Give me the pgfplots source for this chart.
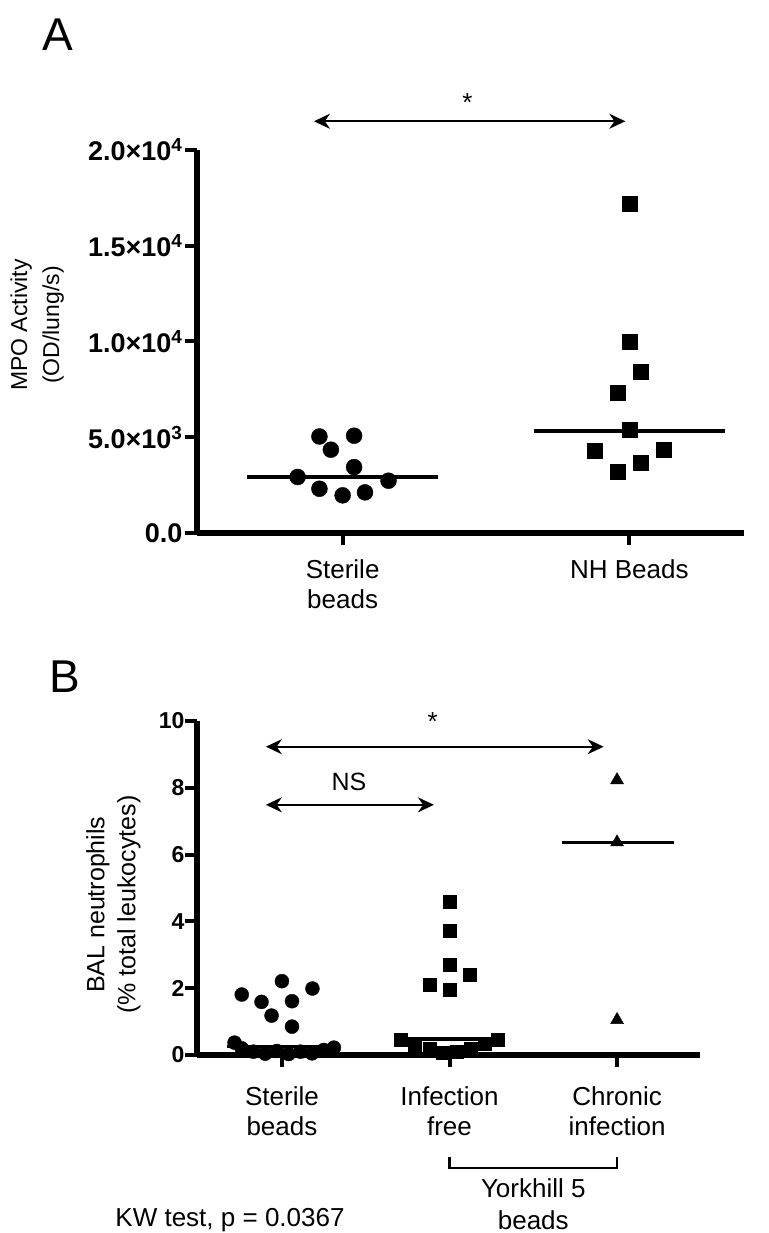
\documentclass[border=0pt]{standalone}
\usepackage{fontspec}
\setmainfont{Liberation Sans}
\usepackage{pgfplots}
\pgfplotsset{compat=1.18}
\usetikzlibrary{arrows.meta}

\tikzset{dbl/.style={line width=2pt, {Stealth[length=16pt,width=15pt]}-{Stealth[length=16pt,width=15pt]}}}
\pgfplotsset{
  prism/.style={
    scale only axis,
    anchor=south west,
    axis x line=bottom, axis y line=left,
    axis line style={line width=5.3pt, -},
    tick align=outside, xtick pos=bottom, ytick pos=left,
    major tick length=12pt,
    every tick/.style={line width=4pt, black},
    scaled y ticks=false,
    xticklabel style={align=center, font=\fontsize{26}{30}\selectfont},
    ylabel style={anchor=center, align=center},
    clip=false,
  },
  med/.style={line width=3.3pt, black, no marks},
}

\begin{document}
\begin{tikzpicture}
\path[use as bounding box] (0pt,0pt) rectangle (768pt,1233pt);

\node[font=\fontsize{46}{50}\selectfont] at (58pt,1198pt) {A};
\node[font=\fontsize{46}{50}\selectfont] at (65pt,556pt) {B};

% ---- panel A
\begin{axis}[prism,
  at={(197pt,700pt)}, width=547pt, height=383pt,
  xmin=-0.508, xmax=1.4, ymin=0, ymax=20000,
  xtick={0,1}, xticklabels={Sterile\\beads, NH Beads},
  xticklabel style={yshift=-11pt},
  ytick={0,5000,10000,15000,20000},
  yticklabels={0.0, 5.0×10\textsuperscript{3}, 1.0×10\textsuperscript{4}, 1.5×10\textsuperscript{4}, 2.0×10\textsuperscript{4}},
  yticklabel style={font=\fontsize{27}{30}\selectfont\bfseries, xshift=1pt},
  ylabel={MPO Activity\\(OD/lung/s)},
  ylabel style={font=\fontsize{23}{32}\selectfont, at={(axis description cs:-0.292,0.543)}},
]
\addplot[only marks, mark=*, mark size=8pt, black] coordinates {
  (-0.081,5040) (0.040,5080) (-0.041,4350) (0.040,3440) (-0.157,2924)
  (0.160,2730) (-0.081,2310) (0,1965) (0.078,2120)};
\addplot[only marks, mark=square*, mark size=7.5pt, black] coordinates {
  (1,17220) (1,10000) (1.04,8400) (0.96,7300) (1,5390)
  (0.88,4310) (1.12,4350) (1.04,3650) (0.96,3180)};
\addplot[med] coordinates {(-0.333,2924) (0.333,2924)};
\addplot[med] coordinates {(0.667,5330) (1.334,5330)};
\draw[dbl] (axis cs:-0.10,21500) -- (axis cs:0.986,21500);
\node[font=\fontsize{26}{28}\selectfont] at (axis cs:0.435,22500) {*};
\end{axis}

% ---- panel B
\begin{axis}[prism,
  at={(197pt,178pt)}, width=503pt, height=334pt,
  xmin=-0.507, xmax=2.495, ymin=0, ymax=10,
  xtick={0,1,2}, xticklabels={Sterile\\beads, Infection\\free, Chronic\\infection},
  xticklabel style={yshift=-16pt},
  ytick={0,2,4,6,8,10}, yticklabels={0,2,4,6,8,10},
  yticklabel style={font=\fontsize{23}{26}\selectfont\bfseries, xshift=3pt},
  ylabel={BAL neutrophils\\(\% total leukocytes)},
  ylabel style={font=\fontsize{25}{31}\selectfont, at={(axis description cs:-0.166,0.45)}},
]
\addplot[only marks, mark=*, mark size=7pt, black] coordinates {
  (-0.24,1.81) (0,2.21) (0.182,1.99) (-0.122,1.59) (0.06,1.61)
  (-0.062,1.18) (0.06,0.85) (-0.283,0.37)
  (-0.24,0.20) (-0.17,0.10) (-0.10,0.04) (-0.03,0.12) (0.04,0.03)
  (0.11,0.10) (0.18,0.05) (0.25,0.15) (0.31,0.22)};
\addplot[only marks, mark=square*, mark size=6.5pt, black] coordinates {
  (1,4.59) (1,3.71) (1,2.71) (1.12,2.41) (0.88,2.11) (1,1.96)
  (0.71,0.45) (0.79,0.30) (0.88,0.19) (0.96,0.08) (1.04,0.10)
  (1.126,0.19) (1.21,0.33) (1.29,0.47)};
\addplot[only marks, mark=triangle*, mark size=7.5pt, black] coordinates {
  (2,8.23) (2,6.37) (2,1.05)};
\addplot[med] coordinates {(-0.33,0.25) (0.33,0.25)};
\addplot[med] coordinates {(0.70,0.48) (1.30,0.48)};
\addplot[med] coordinates {(1.67,6.37) (2.34,6.37)};
\draw[dbl] (axis cs:-0.096,9.23) -- (axis cs:1.92,9.23);
\draw[dbl] (axis cs:-0.096,7.49) -- (axis cs:0.907,7.49);
\node[font=\fontsize{26}{28}\selectfont] at (axis cs:0.90,9.98) {*};
\node[font=\fontsize{25}{28}\selectfont] at (axis cs:0.40,8.17) {NS};
\draw[line width=2.5pt] (axis cs:1,-3.05) -- (axis cs:1,-3.38) -- (axis cs:2,-3.38) -- (axis cs:2,-3.05);
\node[font=\fontsize{26}{28}\selectfont] at (axis cs:1.5,-3.98) {Yorkhill 5};
\node[font=\fontsize{26}{28}\selectfont] at (axis cs:1.5,-4.94) {beads};
\node[font=\fontsize{26}{28}\selectfont] at (axis cs:-0.31,-4.94) {KW test, p = 0.0367};
\end{axis}
\end{tikzpicture}
\end{document}
